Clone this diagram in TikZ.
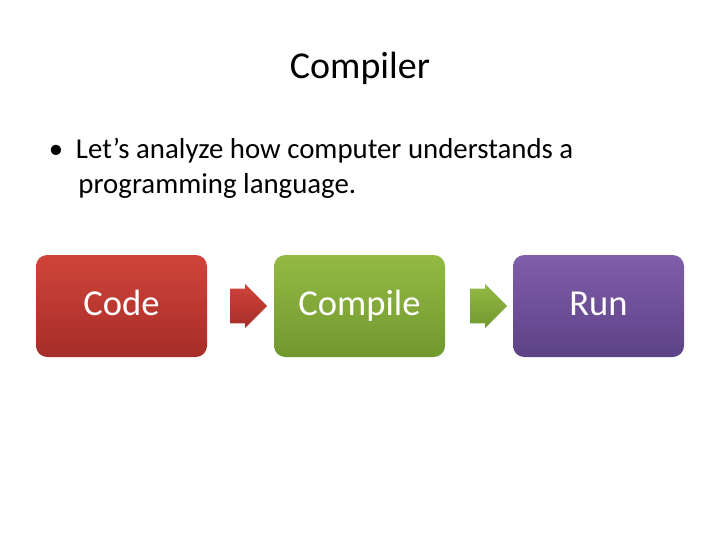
\documentclass[tikz,border=0pt]{standalone}
\usepackage{fontspec}
\setmainfont{Carlito}
\usetikzlibrary{shapes.arrows}
\definecolor{rojoA}{RGB}{208,68,58}
\definecolor{rojoB}{RGB}{166,45,40}
\definecolor{verdeA}{RGB}{148,186,68}
\definecolor{verdeB}{RGB}{112,152,46}
\definecolor{moradoA}{RGB}{128,94,170}
\definecolor{moradoB}{RGB}{92,66,134}
\tikzset{
  stepbox/.style={rectangle,rounded corners=8pt,minimum width=171*0.025cm,minimum height=102*0.025cm,
    font=\fontsize{26}{30}\selectfont,text=white,text height=18pt,text depth=5pt},
  flecha/.style={single arrow,single arrow head extend=0.12cm,
    minimum height=37*0.025cm,inner sep=0pt}
}
\begin{document}
\begin{tikzpicture}[x=0.025cm,y=-0.025cm]
  \useasboundingbox (0,0) rectangle (720,540);
  \node (titulo) at (360,68) {\fontsize{27}{32}\selectfont Compiler};
  \node[anchor=north west,align=left,font=\fontsize{20.5}{25}\selectfont] (texto) at (44,133)
    {\textbullet\hspace{9pt}Let’s analyze how computer understands a\\\hspace*{21pt}programming language.};
  \node[stepbox,top color=rojoA,bottom color=rojoB] (code) at (121.5,306) {Code};
  \node[stepbox,top color=verdeA,bottom color=verdeB] (compile) at (359.5,306) {Compile};
  \node[stepbox,top color=moradoA,bottom color=moradoB] (run) at (598.5,306) {Run};
  \node[flecha,top color=rojoA,bottom color=rojoB] (f1) at (240,306) {\rule{0pt}{0.85cm}};
  \node[flecha,top color=verdeA,bottom color=verdeB] (f2) at (480,306) {\rule{0pt}{0.85cm}};
\end{tikzpicture}
\end{document}
